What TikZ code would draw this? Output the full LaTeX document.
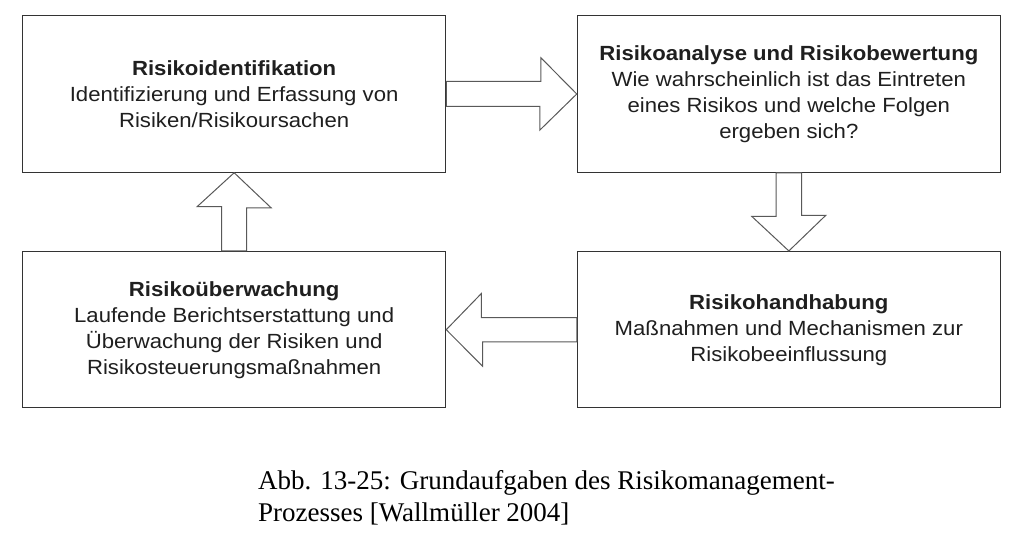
\documentclass[tikz,border=0pt]{standalone}
\usepackage{fontspec}
\setmainfont{Liberation Sans}[FakeStretch=1.08]
\newfontfamily\capfont{Liberation Serif}
\usetikzlibrary{calc}
\begin{document}
\begin{tikzpicture}[x=1pt,y=1pt,
  box/.style={draw=black!80, line width=1.2pt, fill=white, align=center,
    minimum width=423pt, minimum height=156.3pt, inner sep=0pt,
    text=black!88, font=\fontsize{20.5}{26}\selectfont},
  blockarrow/.style={draw=black!65, line width=1pt, fill=white, line join=miter},
  caption/.style={font=\capfont\fontsize{27}{29.3}\selectfont, align=left,
    inner sep=0pt, anchor=base west, text=black}]
\useasboundingbox (0,0) rectangle (1022,550);
\node[box] (tl) at (234.15,456) {\textbf{Risikoidentifikation}\\Identifizierung und Erfassung von\\Risiken/Risikoursachen};
\node[box] (tr) at (788.85,456) {\textbf{Risikoanalyse und Risikobewertung}\\Wie wahrscheinlich ist das Eintreten\\eines Risikos und welche Folgen\\ergeben sich?};
\node[box] (bl) at (234.15,220.3) {\textbf{Risikoüberwachung}\\Laufende Berichtserstattung und\\Überwachung der Risiken und\\Risikosteuerungsmaßnahmen};
\node[box] (br) at (788.85,220.3) {\textbf{Risikohandhabung}\\Maßnahmen und Mechanismen zur\\Risikobeeinflussung};
% right arrow
\draw[blockarrow] ([yshift=12.5pt]tl.east) -- ++(94.7,0) -- ++(0,23.7) -- (tr.west) -- ++(-37,-36.2) -- ++(0,23.7) -- ([yshift=-12.5pt]tl.east) -- cycle;
% down arrow
\draw[blockarrow] ([xshift=-12.8pt]tr.south) -- ++(0,-43.7) -- ++(-24.2,0) -- (br.north) -- ++(37,35.7) -- ++(-24.2,0) -- ([xshift=12.8pt]tr.south) -- cycle;
% left arrow
\draw[blockarrow] ([yshift=12.2pt]br.west) -- ++(-95.4,0) -- ++(0,24) -- (bl.east) -- ++(36.3,-36.5) -- ++(0,24.3) -- ([yshift=-12.2pt]br.west) -- cycle;
% up arrow
\draw[blockarrow] ([xshift=-12.5pt]bl.north) -- ++(0,44.4) -- ++(-24.4,0) -- (tl.south) -- ++(36.9,-35) -- ++(-24.4,0) -- ([xshift=12.5pt]bl.north) -- cycle;
\node[caption] (cap) at (258,29) {Abb. 13-25: Grundaufgaben des Risikomanagement-\\[2.3pt]Prozesses [Wallmüller 2004]};
\end{tikzpicture}
\end{document}
